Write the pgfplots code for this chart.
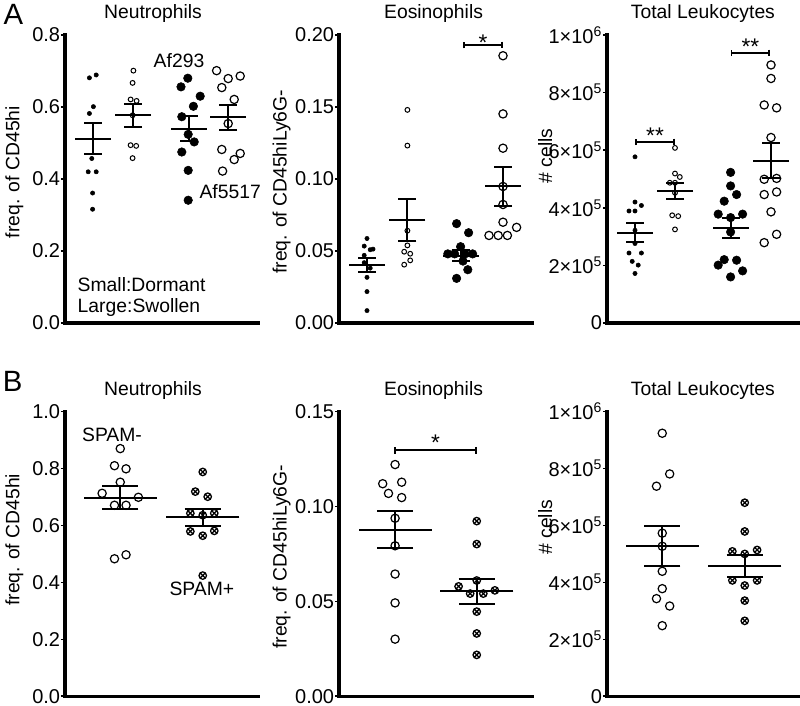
\documentclass[border=0pt]{standalone}
\usepackage{fontspec}
\setmainfont{Liberation Sans}
\usepackage{pgfplots}
\pgfplotsset{compat=1.18}
\usetikzlibrary{arrows.meta,plotmarks}

\tikzset{sig/.style={line width=1.3pt, {Bar[width=5pt]}-{Bar[width=5pt]}}}
\pgfplotsset{
  panel/.style={
    scale only axis, width=144.75pt, clip=false, ymin=0,
    axis x line=bottom, axis y line=left,
    axis line style={-, line width=2.6pt, line cap=rect},
    xtick=\empty, tick align=outside, major tick length=3pt,
    ytick style={line width=1.2pt, black},
    yticklabel style={inner sep=0.5pt, font=\fontsize{15}{17}\selectfont},
    title style={anchor=center, yshift=10pt},
    ylabel style={anchor=center},
  },
  rowA/.style={panel, height=216pt, xmin=0.3, xmax=5.125},
  rowB/.style={panel, height=213.5pt, xmin=0.33, xmax=2.67},
  sfill/.style={only marks, black, mark=*, mark size=1.6pt},
  sopen/.style={only marks, black, mark=o, mark size=1.8pt, line width=0.75pt},
  lfill/.style={only marks, black, mark=*, mark size=3.2pt},
  lopen/.style={only marks, black, mark=o, mark size=3.1pt, line width=0.9pt},
  otim/.style={only marks, black, mark=otimes, mark size=2.8pt, line width=0.95pt},
  meansem/.style 2 args={only marks, black, mark=-, mark size=#1,
    mark options={line width=1.5pt},
    error bars/.cd, y dir=both, y explicit,
    error bar style={line width=1.5pt},
    error mark options={rotate=90, mark size=#2, line width=1.5pt}},
}

\begin{document}
\begin{tikzpicture}[font=\fontsize{14.5}{17}\selectfont]
\path[use as bounding box] (0,0) rectangle (600pt,-529.5pt);

\node[font=\fontsize{22}{24}\selectfont] at (10pt,-11pt) {A};
\node[font=\fontsize{22}{24}\selectfont] at (9.5pt,-286pt) {B};

% ---------- A: neutrophils
\begin{axis}[rowA, at={(48.75pt,-242.25pt)}, anchor=south west,
  ymax=0.8, ytick={0,0.2,0.4,0.6,0.8}, yticklabels={0.0,0.2,0.4,0.6,0.8},
  title=Neutrophils, title style={at={(axis description cs:0.456,1)}},
  ylabel={freq. of CD45hi}, ylabel style={at={(axis description cs:-0.262,0.524)}}]
\addplot[sfill] coordinates {(0.91,0.681) (1.08,0.689) (0.91,0.582) (1.01,0.601) (0.97,0.457) (0.88,0.420) (1.08,0.420) (0.99,0.361) (0.99,0.316)};
\addplot[sopen] coordinates {(2.01,0.701) (1.99,0.667) (1.94,0.621) (2.09,0.617) (1.99,0.577) (1.94,0.494) (2.08,0.492) (1.99,0.458)};
\addplot[lfill] coordinates {(3.37,0.680) (3.20,0.656) (3.68,0.630) (3.51,0.602) (3.22,0.573) (3.38,0.524) (3.53,0.503) (3.22,0.475) (3.38,0.424) (3.38,0.341)};
\addplot[lopen] coordinates {(4.09,0.701) (4.38,0.679) (4.68,0.686) (4.22,0.654) (4.53,0.621) (4.38,0.554) (4.22,0.482) (4.68,0.471) (4.53,0.454) (4.24,0.422)};
\addplot[meansem={13.5pt}{6.75pt}] coordinates {(1,0.5125) +- (0,0.043) (2,0.577) +- (0,0.032) (3.39,0.540) +- (0,0.035) (4.38,0.571) +- (0,0.034)};
\node at (axis cs:3.15,0.728) {Af293};
\node at (axis cs:4.43,0.364) {Af5517};
\node[anchor=west] at (axis cs:0.5,0.106) {Small:Dormant};
\node[anchor=west] at (axis cs:0.5,0.042) {Large:Swollen};
\end{axis}

% ---------- A: eosinophils
\begin{axis}[rowA, at={(254.25pt,-242.25pt)}, anchor=south west,
  ymax=0.2, ytick={0,0.05,0.1,0.15,0.2}, yticklabels={0.00,0.05,0.10,0.15,0.20},
  title=Eosinophils, title style={at={(axis description cs:0.49,1)}},
  ylabel={freq. of CD45hiLy6G-}, ylabel style={at={(axis description cs:-0.297,0.49)}}]
\addplot[sfill] coordinates {(1.0,0.0587) (0.93,0.0534) (1.08,0.0509) (1.15,0.0513) (0.93,0.047) (0.93,0.0419) (1.08,0.0381) (1.0,0.0317) (1.0,0.0218) (1.0,0.0086)};
\addplot[sopen] coordinates {(2.01,0.148) (2.01,0.1232) (2.01,0.0641) (2.01,0.0539) (1.93,0.0495) (2.08,0.0481) (2.08,0.0435) (1.93,0.0405)};
\addplot[lfill] coordinates {(3.24,0.069) (3.54,0.0627) (3.34,0.053) (3.02,0.048) (3.19,0.048) (3.45,0.048) (3.64,0.048) (3.40,0.043) (3.52,0.037) (3.24,0.031)};
\addplot[lopen] coordinates {(4.4,0.1856) (4.4,0.1452) (4.4,0.1214) (4.4,0.0948) (4.4,0.0823) (4.4,0.070) (4.74,0.0664) (4.05,0.0608) (4.28,0.0608) (4.51,0.0608)};
\addplot[meansem={13.5pt}{6.75pt}] coordinates {(1,0.0402) +- (0,0.0051) (2.01,0.0714) +- (0,0.0145) (3.34,0.0467) +- (0,0.0037) (4.4,0.0948) +- (0,0.0135)};
\draw[sig] (axis cs:3.4,0.193) -- (axis cs:4.4,0.193) node[midway, anchor=base, yshift=-4pt, font=\fontsize{17}{17}\selectfont] {*};
\end{axis}

% ---------- A: total leukocytes
\begin{axis}[rowA, at={(455.25pt,-242.25pt)}, anchor=south west,
  ymax=10, ytick={0,2,4,6,8,10},
  yticklabels={0, 2×10\textsuperscript{5}, 4×10\textsuperscript{5}, 6×10\textsuperscript{5}, 8×10\textsuperscript{5}, 1×10\textsuperscript{6}},
  title=Total Leukocytes, title style={at={(axis description cs:0.497,1)}},
  ylabel={\# cells}, ylabel style={at={(axis description cs:-0.32,0.58)}}]
\addplot[sfill] coordinates {(1.0,5.77) (1.0,4.20) (1.16,4.08) (0.85,3.89) (1.0,3.89) (1.0,3.22) (1.0,2.76) (0.85,2.43) (1.16,2.43) (0.93,2.14) (1.08,2.01) (1.0,1.72)};
\addplot[sopen] coordinates {(2.0,6.08) (2.0,5.19) (2.12,5.07) (1.87,4.87) (2.0,4.87) (2.0,4.52) (1.93,3.74) (2.08,3.71) (2.0,3.25)};
\addplot[lfill] coordinates {(3.39,5.23) (3.39,4.76) (3.54,4.46) (3.23,4.23) (3.08,3.78) (3.39,3.66) (3.69,3.78) (3.39,3.16) (3.23,2.20) (3.54,2.18) (3.08,2.01) (3.69,1.81) (3.39,1.60)};
\addplot[lopen] coordinates {(4.4,8.96) (4.4,8.49) (4.23,7.57) (4.54,7.47) (4.4,6.44) (4.23,4.99) (4.54,5.02) (4.23,4.46) (4.54,4.55) (4.4,3.86) (4.23,2.79) (4.54,3.08)};
\addplot[meansem={13.5pt}{6.75pt}] coordinates {(1,3.14) +- (0,0.32) (2,4.58) +- (0,0.29) (3.39,3.30) +- (0,0.34) (4.4,5.64) +- (0,0.60)};
\draw[sig] (axis cs:1.0,6.29) -- (axis cs:2.0,6.29) node[midway, anchor=base, yshift=-1pt, font=\fontsize{17}{17}\selectfont] {**};
\draw[sig] (axis cs:3.39,9.38) -- (axis cs:4.38,9.38) node[midway, anchor=base, yshift=-1pt, font=\fontsize{17}{17}\selectfont] {**};
\end{axis}

% ---------- B: neutrophils
\begin{axis}[rowB, at={(48.75pt,-522.2pt)}, anchor=south west,
  ymax=1, ytick={0,0.2,0.4,0.6,0.8,1}, yticklabels={0.0,0.2,0.4,0.6,0.8,1.0},
  title=Neutrophils, title style={at={(axis description cs:0.456,1)}},
  ylabel={freq. of CD45hi}, ylabel style={at={(axis description cs:-0.262,0.55)}}]
\addplot[lopen] coordinates {(1.0,0.870) (0.93,0.810) (1.07,0.799) (1.0,0.752) (0.78,0.713) (1.22,0.699) (0.93,0.671) (1.07,0.671) (0.93,0.483) (1.07,0.497)};
\addplot[otim] coordinates {(2.0,0.788) (1.91,0.719) (2.06,0.701) (1.85,0.643) (2.0,0.636) (2.14,0.643) (1.85,0.579) (2.14,0.581) (2.0,0.564) (2.0,0.424)};
\addplot[meansem={27.4pt}{13.5pt}] coordinates {(1,0.698) +- (0,0.041) (2,0.628) +- (0,0.031)};
\node at (axis cs:0.90,0.918) {SPAM-};
\node at (axis cs:1.99,0.378) {SPAM+};
\end{axis}

% ---------- B: eosinophils
\begin{axis}[rowB, at={(254.25pt,-522.2pt)}, anchor=south west,
  ymax=0.15, ytick={0,0.05,0.1,0.15}, yticklabels={0.00,0.05,0.10,0.15},
  title=Eosinophils, title style={at={(axis description cs:0.49,1)}},
  ylabel={freq. of CD45hiLy6G-}, ylabel style={at={(axis description cs:-0.297,0.49)}}]
\addplot[lopen] coordinates {(1.01,0.1221) (0.86,0.112) (1.09,0.1128) (0.93,0.1069) (1.09,0.1047) (1.01,0.0938) (1.01,0.0793) (1.01,0.0644) (1.01,0.0492) (1.01,0.0301)};
\addplot[otim] coordinates {(2.0,0.0923) (2.0,0.0802) (2.0,0.061) (1.78,0.0579) (1.92,0.0541) (2.08,0.0541) (2.22,0.0558) (2.0,0.0446) (2.0,0.0331) (2.0,0.0218)};
\addplot[meansem={27.4pt}{13.5pt}] coordinates {(1.01,0.0877) +- (0,0.0097) (2,0.0553) +- (0,0.0065)};
\draw[sig] (axis cs:1.0,0.1296) -- (axis cs:2.0,0.1296) node[midway, anchor=base, yshift=0pt, font=\fontsize{17}{17}\selectfont] {*};
\end{axis}

% ---------- B: total leukocytes
\begin{axis}[rowB, at={(455.25pt,-522.2pt)}, anchor=south west,
  ymax=10, ytick={0,2,4,6,8,10},
  yticklabels={0, 2×10\textsuperscript{5}, 4×10\textsuperscript{5}, 6×10\textsuperscript{5}, 8×10\textsuperscript{5}, 1×10\textsuperscript{6}},
  title=Total Leukocytes, title style={at={(axis description cs:0.497,1)}},
  ylabel={\# cells}, ylabel style={at={(axis description cs:-0.32,0.594)}}]
\addplot[lopen] coordinates {(1.0,9.24) (1.09,7.81) (0.93,7.38) (1.0,5.73) (1.0,5.27) (1.0,4.39) (1.0,3.78) (0.93,3.43) (1.09,3.17) (1.0,2.48)};
\addplot[otim] coordinates {(2.0,6.80) (2.0,5.79) (1.85,5.09) (2.15,5.14) (2.0,5.00) (1.85,4.07) (2.15,4.07) (2.0,3.89) (2.0,3.36) (2.0,2.65)};
\addplot[meansem={27.4pt}{13.5pt}] coordinates {(1,5.27) +- (0,0.71) (2,4.58) +- (0,0.38)};
\end{axis}
\end{tikzpicture}
\end{document}
